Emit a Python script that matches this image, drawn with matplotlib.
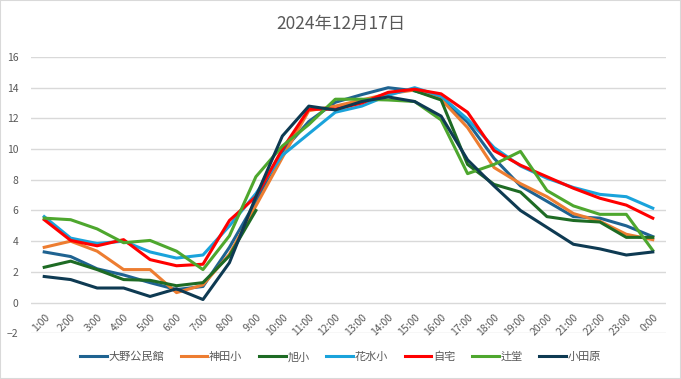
import numpy as np
import matplotlib
matplotlib.use("Agg")
import matplotlib.pyplot as plt
from matplotlib.patches import Rectangle

plt.rcParams['font.family'] = ['Noto Sans CJK JP', 'DejaVu Sans']

hours = [f"{h}:00" for h in range(1, 24)] + ["0:00"]

nan = np.nan
oono = [3.3, 3.0, 2.2, 1.8, 1.3, 0.85, 1.05, 3.6, 6.6, 9.85, 11.8, 13.05,
        13.55, 14.0, 13.8, 13.3, 11.75, 9.4, 7.6, 6.6, 5.6, 5.5, 5.0, 4.3]
kanda = [3.6, 4.0, 3.35, 2.15, 2.15, 0.65, 1.15, 3.15, 6.3, 9.45, 12.5, 12.8,
         13.2, 13.6, 13.85, 13.25, 11.4, 8.8, 7.75, 6.9, 5.8, 5.3, 4.45, 4.1]
asahi = [2.3, 2.7, 2.15, 1.5, 1.45, 1.1, 1.3, 3.05, 6.0, nan, nan, nan,
         nan, nan, 13.8, 13.2, 9.0, 7.7, 7.2, 5.6, 5.35, 5.25, 4.25, 4.25]
hanamizu = [5.6, 4.2, 3.85, 4.0, 3.3, 2.9, 3.1, 5.0, 7.1, 9.6, 11.0, 12.4,
            12.8, 13.5, 14.0, 13.45, 11.95, 10.1, 8.9, 8.1, 7.5, 7.05, 6.9, 6.15]
jitaku = [5.4, 4.05, 3.7, 4.1, 2.8, 2.4, 2.5, 5.35, 6.9, 10.0, 12.6, 12.6,
          13.0, 13.7, 13.9, 13.6, 12.4, 9.9, 8.95, 8.2, 7.45, 6.8, 6.35, 5.5]
tsujido = [5.5, 5.4, 4.8, 3.9, 4.05, 3.35, 2.15, 4.35, 8.2, 10.2, 11.6, 13.25,
           13.25, 13.2, 13.1, 11.9, 8.4, 9.0, 9.85, 7.3, 6.3, 5.75, 5.75, 3.4]
odawara = [1.7, 1.5, 0.95, 0.95, 0.4, 0.9, 0.2, 2.6, 6.9, 10.85, 12.8, 12.55,
           13.1, 13.4, 13.1, 12.15, 9.3, 7.6, 6.0, 4.9, 3.8, 3.5, 3.1, 3.3]

names = ["大野公民館", "神田小", "旭小", "花水小", "自宅", "辻堂", "小田原"]
series = [oono, kanda, asahi, hanamizu, jitaku, tsujido, odawara]
colors = ["#1f6391", "#ed7d31", "#1e6b24", "#1aa3db", "#ff0000", "#4ea72e", "#0e3a52"]

fig = plt.figure(figsize=(6.81, 3.79), dpi=100)
ax = fig.add_axes([0.0455, 0.1206, 0.9325, 0.729])

# category labels hang off the zero line, like Excel does
ax.spines['bottom'].set_position(('data', 0))
for s in ax.spines.values():
    s.set_visible(False)

x = np.arange(len(hours))
for name, vals, c in zip(names, series, colors):
    ax.plot(x, vals, color=c, lw=2.2, label=name)

ax.set_xlim(-0.5, len(hours) - 0.5)
ax.set_ylim(-2, 16)
ax.set_yticks(range(-2, 17, 2))
ax.set_xticks(x)
ax.set_xticklabels(hours, rotation=45, ha='right', rotation_mode='anchor')
ax.tick_params(axis='both', length=0, labelsize=7.5, colors='#595959')
ax.tick_params(axis='y', pad=9)
ax.tick_params(axis='x', pad=7)
ax.grid(axis='y', color='#d9d9d9', lw=1)
ax.set_axisbelow(True)

fig.suptitle("2024年12月17日", y=0.96, fontsize=12.5, color='#595959')
fig.legend(loc='center', ncol=7, frameon=False, fontsize=8,
           bbox_to_anchor=(0.5, 0.058), handlelength=2.4, columnspacing=1.5,
           handletextpad=0.15, labelcolor='#595959')

fig.patches.append(Rectangle((0, 0), 1, 1, transform=fig.transFigure,
                             fill=False, edgecolor='#d9d9d9', lw=1.5))

fig.savefig("out.png", dpi=100)
